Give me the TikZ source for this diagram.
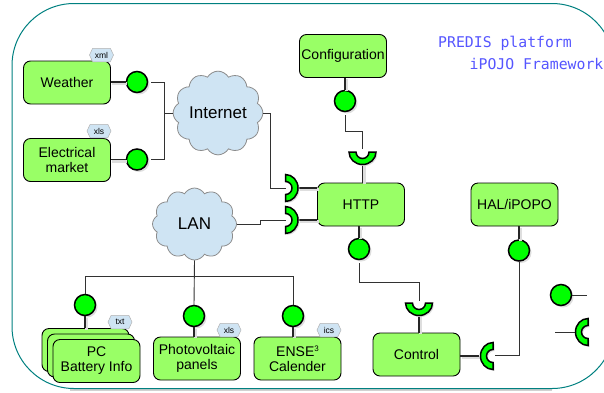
\documentclass[tikz,border=0pt]{standalone}
\usepackage{fontspec}
\setmainfont{Liberation Sans}
\newfontfamily\monof{DejaVu Sans Mono}
\usetikzlibrary{shapes.symbols,shadows}
\definecolor{boxgreen}{RGB}{153,255,102}
\definecolor{ballgreen}{RGB}{0,255,0}
\definecolor{cloudblue}{RGB}{207,228,243}
\definecolor{frameteal}{RGB}{0,128,128}
\definecolor{softshadow}{RGB}{222,222,222}
\definecolor{wire}{RGB}{50,50,50}
\definecolor{titleblue}{RGB}{85,85,255}
\tikzset{
 comp/.style={draw=black,line width=0.9pt,fill=boxgreen,rounded corners=7pt,minimum width=87pt,minimum height=43pt,align=center,font=\fontsize{14}{15}\selectfont,inner sep=0pt},
 ball/.style={circle,draw=black,line width=1.5pt,fill=ballgreen,minimum size=21pt,inner sep=0pt,drop shadow={shadow xshift=2pt,shadow yshift=-2pt,fill=softshadow,opacity=1}},
 wireline/.style={draw=wire,line width=0.9pt},
 stem/.style={draw=black!85,line width=1.3pt,preaction={draw=softshadow,line width=3pt,transform canvas={shift={(1.5pt,-1.5pt)}}}},
 tag/.style={signal,signal to=east and west,signal pointer angle=130,draw=black!30,line width=0.5pt,fill=cloudblue,minimum width=24pt,minimum height=13.5pt,inner sep=0pt,font=\fontsize{8.5}{9}\selectfont},
 netcloud/.style={cloud,cloud puffs=12,cloud puff arc=120,aspect=1.1,draw=black!45,line width=0.8pt,fill=cloudblue,font=\fontsize{17}{18}\selectfont,inner sep=0pt},
 title/.style={text=titleblue,font=\monof\fontsize{14.8}{16}\selectfont,inner sep=0pt,anchor=base west},
 sock/.style={draw=black,line width=1.5pt,fill=ballgreen},
}
\newcommand{\socketat}[2]{%
 \path[fill=softshadow,shift={(#1)},xshift=1.5pt,yshift=-1.5pt,rotate=#2] (-13.5,0) arc[start angle=180,end angle=0,x radius=13.5,y radius=12.5] -- (6.5,0) arc[start angle=0,end angle=180,radius=6.5] -- cycle;
 \path[sock,shift={(#1)},rotate=#2] (-13.5,0) arc[start angle=180,end angle=0,x radius=13.5,y radius=12.5] -- (6.5,0) arc[start angle=0,end angle=180,radius=6.5] -- cycle;}
\begin{document}
\begin{tikzpicture}[x=1pt,y=-1pt]
\useasboundingbox (0,0) rectangle (604,392);
\begin{scope}
\clip (0,0) rectangle (604,392);
\draw[black!18,line width=1.2pt] (70,390) -- (552,390);
\draw[frameteal,line width=1pt,rounded corners=62pt] (12,3.5) rectangle (614,388.5);
\end{scope}
% components
\node[comp] (pc1) at (85.5,350) {};
\node[comp] (pc2) at (91,355.5) {};
\node[comp] (weather) at (67,82.5) {Weather};
\node[comp] (elec) at (67,160) {Electrical\\market};
\node[comp] (config) at (343,56) {Configuration};
\node[comp] (http) at (361,204.5) {HTTP};
\node[comp] (hal) at (514.5,204.5) {HAL/iPOPO};
\node[comp] (control) at (416.5,354.5) {Control};
\node[comp] (pc) at (96.5,361) {PC\\Battery Info};
\node[comp] (pv) at (197,358.5) {Photovoltaic\\panels};
\node[comp] (ense) at (297.5,358.5) {ENSE\raisebox{5pt}{\fontsize{8}{8}\selectfont 3}\\Calender};
% tags
\node[tag] (t1) at (101.5,55) {xml};
\node[tag] (t2) at (99,131) {xls};
\node[tag] (t3) at (120,322) {txt};
\node[tag] (t4) at (229,330) {xls};
\node[tag] (t5) at (329,330) {ics};
% clouds
\node[netcloud,minimum width=84pt,minimum height=72pt] (inet) at (218,113) {Internet};
\node[netcloud,minimum width=84pt,minimum height=72pt] (lan) at (194.5,224) {LAN};
% socket anchors: middle of the open side
\coordinate (s1) at (285.5,188);
\coordinate (s2) at (285.5,220);
\coordinate (s3) at (362.5,152);
\coordinate (s4) at (419,303);
\coordinate (s5) at (493,356);
\coordinate (s6) at (588,332);
% stems
\node[ball] (bw) at (137,82) {};
\node[ball] (be) at (137,159.5) {};
\node[ball] (bc) at (345,101) {};
\node[ball] (bh) at (359,249) {};
\node[ball] (bhal) at (519,250.5) {};
\node[ball] (bpc) at (85,305) {};
\node[ball] (bpv) at (194,316) {};
\node[ball] (ben) at (293,316) {};
\node[ball] (bleg) at (561,295) {};
\draw[stem] (weather.east |- bw) -- (bw.west);
\draw[stem] (elec.east |- be) -- (be.west);
\draw[stem] (config.south -| bc) -- (bc.north);
\draw[stem] (http.south -| bh) -- (bh.north);
\draw[stem] (hal.south -| bhal) -- (bhal.north);
\draw[stem] (bpc.south) -- (pc1.north -| bpc);
\draw[stem] (bpv.south) -- (pv.north -| bpv);
\draw[stem] (ben.south) -- (ense.north -| ben);
\draw[stem] (s1 -| http.west) -- ++(-19,0);
\draw[stem] (s2 -| http.west) -- ++(-19,0);
\draw[stem] (http.north -| s3) -- ++(0,-18);
\draw[stem] (control.north -| s4) -- ++(0,-18);
\draw[stem] (control.east |- s5) -- ++(19,0);
\coordinate (legs) at (555,332);
\coordinate (lege) at (587,295);
\draw[wireline] (legs) -- (575,332);
\draw[wireline] (bleg.east) -- (lege);
% sockets
\socketat{s1}{90}
\socketat{s2}{90}
\socketat{s3}{0}
\socketat{s4}{0}
\socketat{s5}{-90}
\socketat{s6}{-90}
% wires
\draw[wireline] (bw.east) ++(3,0) -- ++(13,0) |- (inet.west);
\draw[wireline] (be.east) ++(3,0) -- ++(13,0) |- (inet.west);
\draw[wireline] (inet.east) -- (270,113) |- (s1);
\draw[wireline] (lan.east) -- (260,224) -- (260,220) -- (s2);
\draw[wireline] (lan.south) -- (bpv.north);
\draw[wireline] (194,276) -| (bpc.north);
\draw[wireline] (194,276) -| (ben.north);
\draw[wireline] (bc.south) ++(0,3) |- (362.5,131) -- (362.5,149);
\draw[wireline] (bh.south) ++(0,3) |- (419,282) -- (419,301);
\draw[wireline] (s5) ++(2,-1) -| (bhal.south);
% title
\node[title] (tt1) at (438,47) {PREDIS platform};
\node[title] (tt2) at (469.5,69) {iPOJO Framework};
\end{tikzpicture}
\end{document}
